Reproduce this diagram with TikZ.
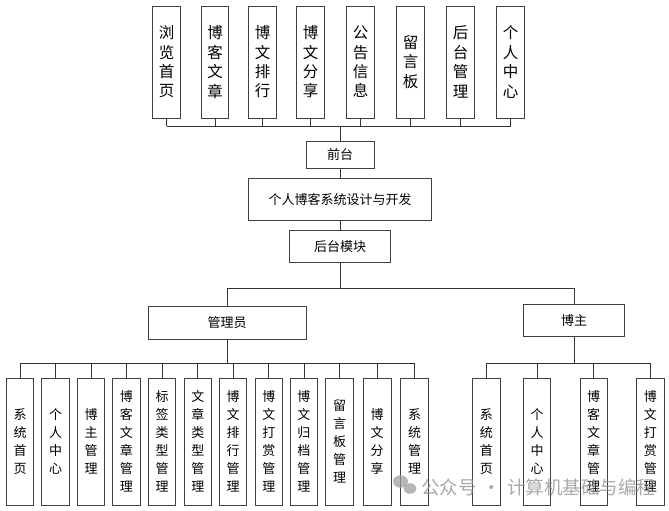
\documentclass[tikz,border=0pt]{standalone}
\usepackage{fontspec}
\setmainfont{Noto Sans CJK SC}
\begin{document}
\begin{tikzpicture}[x=1pt,y=-1pt,
 box/.style={draw=black!75, line width=0.9pt, inner sep=0pt, fill=white},
 conn/.style={draw=black!80, line width=0.8pt},
 topv/.style={box, minimum width=27.5pt, minimum height=112pt, font=\fontsize{15.5}{19.4}\selectfont, align=center},
 botv/.style={box, minimum width=27.5pt, minimum height=126.7pt, font=\fontsize{13}{18}\selectfont, align=center},
 hbox/.style={box, font=\fontsize{13}{15}\selectfont},
 wmark/.style={text=black!45, opacity=0.75, font=\fontsize{18.5}{19}\selectfont, inner sep=0pt}]
\useasboundingbox (0,0) rectangle (669,511);

% top row
\node[topv] (t1) at (166.5,62) {浏\\览\\首\\页};
\node[topv] (t2) at (215,62) {博\\客\\文\\章};
\node[topv] (t3) at (262.5,62) {博\\文\\排\\行};
\node[topv] (t4) at (310.5,62) {博\\文\\分\\享};
\node[topv] (t5) at (360.5,62) {公\\告\\信\\息};
\node[topv] (t6) at (410.5,62) {留\\言\\板};
\node[topv] (t7) at (460.5,62) {后\\台\\管\\理};
\node[topv] (t8) at (510.5,62) {个\\人\\中\\心};

% middle
\node[hbox, minimum width=68pt, minimum height=26.6pt] (qt) at (340,155) {前台};
\node[hbox, minimum width=183pt, minimum height=41.7pt] (main) at (340,199.2) {个人博客系统设计与开发};
\node[hbox, minimum width=101.4pt, minimum height=32.7pt] (hm) at (340,246.4) {后台模块};
\node[hbox, minimum width=157.7pt, minimum height=32.3pt] (gl) at (227.2,322.9) {管理员};
\node[hbox, minimum width=101.4pt, minimum height=32.4pt] (bz) at (574,320.5) {博主};

% admin children
\node[botv] (a1) at (20,441.7) {系\\统\\首\\页};
\node[botv] (a2) at (55.5,441.7) {个\\人\\中\\心};
\node[botv] (a3) at (91,441.7) {博\\主\\管\\理};
\node[botv] (a4) at (126.4,441.7) {博\\客\\文\\章\\管\\理};
\node[botv] (a5) at (162,441.7) {标\\签\\类\\型\\管\\理};
\node[botv] (a6) at (197.8,441.7) {文\\章\\类\\型\\管\\理};
\node[botv] (a7) at (233,441.7) {博\\文\\排\\行\\管\\理};
\node[botv] (a8) at (268.8,441.7) {博\\文\\打\\赏\\管\\理};
\node[botv] (a9) at (303.9,441.7) {博\\文\\归\\档\\管\\理};
\node[botv] (a10) at (339.5,441.7) {留\\言\\板\\管\\理};
\node[botv] (a11) at (377.2,441.7) {博\\文\\分\\享};
\node[botv] (a12) at (414.5,441.7) {系\\统\\管\\理};

% blogger children
\node[botv] (b1) at (486.4,441.7) {系\\统\\首\\页};
\node[botv] (b2) at (537,441.7) {个\\人\\中\\心};
\node[botv] (b3) at (593.7,441.7) {博\\客\\文\\章\\管\\理};
\node[botv] (b4) at (650.4,441.7) {博\\文\\打\\赏\\管\\理};

% connectors
\coordinate (tb) at (340,126);
\foreach \i in {1,...,8} \draw[conn] (t\i.south) -- (t\i.south |- tb);
\draw[conn] (t1.south |- tb) -- (t8.south |- tb);
\draw[conn] (tb) -- (qt.north);
\draw[conn] (qt.south) -- (main.north);
\draw[conn] (main.south) -- (hm.north);

\coordinate (mb) at (340,288.3);
\draw[conn] (hm.south) -- (mb);
\draw[conn] (gl.north) -- (gl.north |- mb) -- (bz.north |- mb) -- (bz.north);

\coordinate (ab) at (227.2,363.3);
\draw[conn] (gl.south) -- (ab);
\foreach \i in {1,...,12} \draw[conn] (a\i.north) -- (a\i.north |- ab);
\draw[conn] (a1.north |- ab) -- (a12.north |- ab);

\coordinate (bb) at (574,363.3);
\draw[conn] (bz.south) -- (bb);
\foreach \i in {1,...,4} \draw[conn] (b\i.north) -- (b\i.north |- bb);
\draw[conn] (b1.north |- bb) -- (b4.north |- bb);

% watermark
\fill[black!40, opacity=0.7] (400.5,481.5) ellipse [x radius=7.5pt, y radius=6.3pt];
\fill[black!40, opacity=0.7] (410,488.5) ellipse [x radius=6.3pt, y radius=5.3pt];
\node[wmark, anchor=west] (wm) at (421,487) {公众号\hspace{6pt}·\hspace{6pt}计算机基础与编程};
\end{tikzpicture}
\end{document}
